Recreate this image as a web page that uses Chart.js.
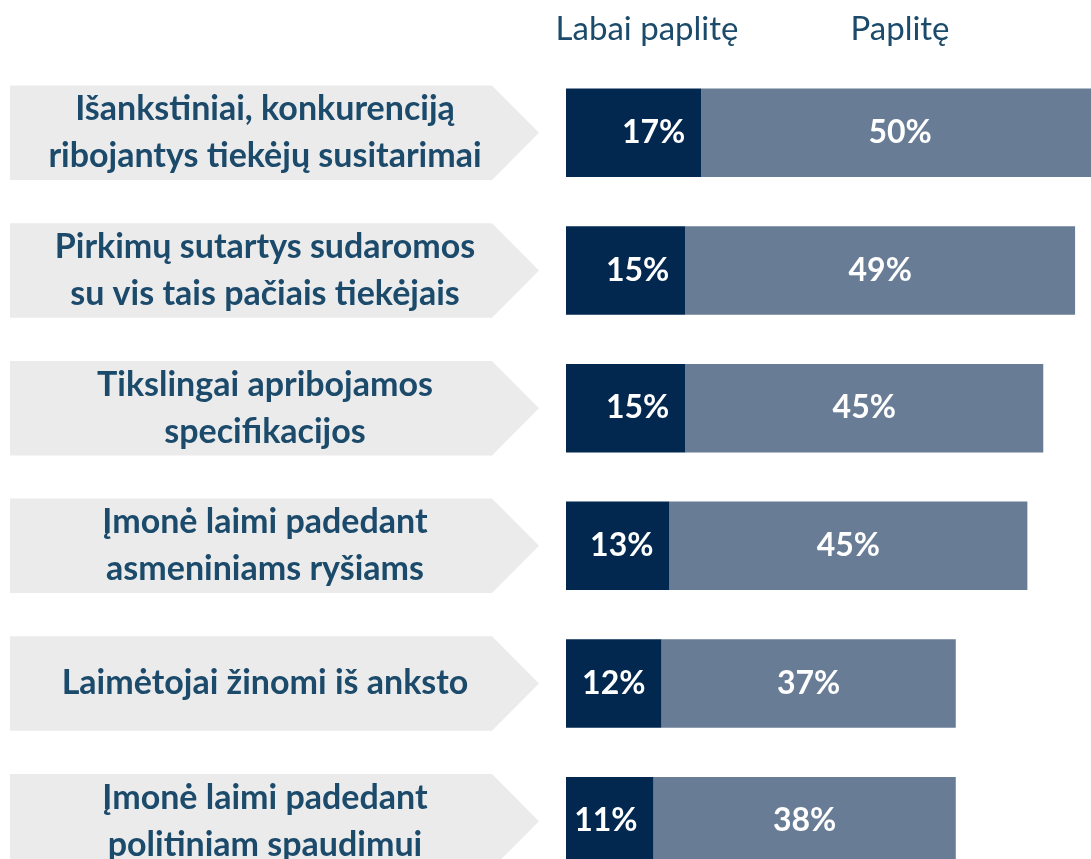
<!DOCTYPE html>
<html>
<head>
<meta charset="utf-8">
<script src="https://cdn.jsdelivr.net/npm/chart.js@4.4.1/dist/chart.umd.min.js"></script>
<style>
  html, body { margin: 0; padding: 0; background: #fff; overflow: hidden; }
  canvas { display: block; }
</style>
</head>
<body>
<canvas id="chart" width="1091" height="890"></canvas>
<script>
// data
const categories = [
  ["Išankstiniai, konkurenciją", "ribojantys tiekėjų susitarimai"],
  ["Pirkimų sutartys sudaromos", "su vis tais pačiais tiekėjais"],
  ["Tikslingai apribojamos", "specifikacijos"],
  ["Įmonė laimi padedant", "asmeniniams ryšiams"],
  ["Laimėtojai žinomi iš anksto"],
  ["Įmonė laimi padedant", "politiniam spaudimui"]
];
const seriesNames = ["Labai paplitę", "Paplitę"];
const veryCommon = [17, 15, 15, 13, 12, 11];
const common = [50, 49, 45, 45, 37, 38];

const darkBlue = "#022850";
const greyBlue = "#687d95";
const textBlue = "#1b4a6b";
const boxGrey = "#ebebeb";
const FONT = "Lato, 'Open Sans', sans-serif";

// grey arrow boxes with the category text on the left
const arrowLabels = {
  id: "arrowLabels",
  beforeDatasetsDraw(chart) {
    const ctx = chart.ctx;
    const y = chart.scales.y;
    const band = y.height / categories.length;
    const half = band * 0.343;
    ctx.save();
    categories.forEach((lines, i) => {
      const cy = y.getPixelForValue(i);
      ctx.fillStyle = boxGrey;
      ctx.beginPath();
      ctx.moveTo(10, cy - half);
      ctx.lineTo(492, cy - half);
      ctx.lineTo(539, cy);
      ctx.lineTo(492, cy + half);
      ctx.lineTo(10, cy + half);
      ctx.closePath();
      ctx.fill();

      ctx.fillStyle = textBlue;
      ctx.font = "bold 34px " + FONT;
      ctx.textAlign = "center";
      ctx.textBaseline = "middle";
      const gap = 47;
      const start = cy - gap * (lines.length - 1) / 2;
      lines.forEach((t, k) => ctx.fillText(t, 265, start + k * gap));
    });
    ctx.restore();
  },
  afterDatasetsDraw(chart) {
    const ctx = chart.ctx;
    ctx.save();
    ctx.fillStyle = "#fff";
    ctx.font = "bold 32px " + FONT;
    ctx.textBaseline = "middle";
    chart.data.datasets.forEach((ds, di) => {
      const meta = chart.getDatasetMeta(di);
      meta.data.forEach((bar, i) => {
        const txt = ds.data[i] + "%";
        if (di === 0) {
          ctx.textAlign = "right";
          ctx.fillText(txt, bar.x - 16, bar.y);
        } else {
          ctx.textAlign = "center";
          ctx.fillText(txt, (bar.base + bar.x) / 2, bar.y);
        }
      });
    });
    // column headers
    ctx.fillStyle = textBlue;
    ctx.font = "33px " + FONT;
    ctx.textAlign = "center";
    ctx.textBaseline = "alphabetic";
    ctx.fillText(seriesNames[0], 647, 40);
    ctx.fillText(seriesNames[1], 900, 40);
    ctx.restore();
  }
};

const context = document.getElementById("chart").getContext("2d");
const chart = new Chart(context, {
  type: "bar",
  data: {
    labels: categories.map(c => c.join(" ")),
    datasets: [
      { label: seriesNames[0], data: veryCommon, backgroundColor: darkBlue, barPercentage: 0.643, categoryPercentage: 1 },
      { label: seriesNames[1], data: common, backgroundColor: greyBlue, barPercentage: 0.643, categoryPercentage: 1 }
    ]
  },
  options: {
    indexAxis: "y",
    responsive: false,
    animation: false,
    layout: { padding: { left: 566, top: 64, right: 0, bottom: 0 } },
    plugins: { legend: { display: false }, tooltip: { enabled: false } },
    scales: {
      x: { stacked: true, display: false, min: 0, max: 66 },
      y: { stacked: true, display: false }
    }
  },
  plugins: [arrowLabels]
});
</script>
</body>
</html>
